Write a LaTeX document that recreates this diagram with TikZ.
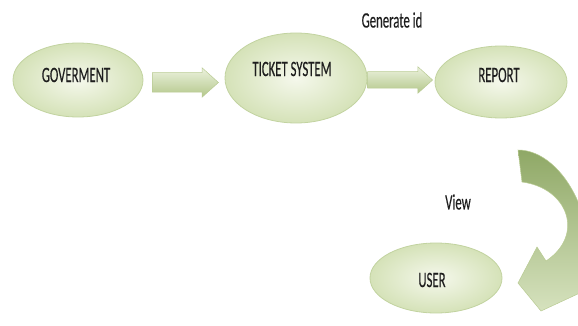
\documentclass[tikz,border=0pt]{standalone}
\usepackage{fontspec}
\setmainfont{Carlito}
\newfontfamily\narrowfont[FakeStretch=0.58,FakeBold=0.3]{Carlito}
\usetikzlibrary{shapes.geometric,shapes.arrows}
\definecolor{ellfillA}{HTML}{F5F8EC}
\definecolor{ellfillB}{HTML}{D5E2B8}
\definecolor{ellline}{HTML}{C2D3A0}
\definecolor{arrA}{HTML}{ECF2DE}
\definecolor{arrB}{HTML}{B3C78A}
\definecolor{arrline}{HTML}{B9CB93}
\definecolor{curvA}{HTML}{8FA866}
\definecolor{curvB}{HTML}{D6E2BE}
\definecolor{txt}{HTML}{1E1E1E}
\tikzset{
  ellbox/.style={ellipse, draw=ellline, line width=0.8pt, inner color=ellfillA, outer color=ellfillB, inner sep=0pt},
  lbl/.style={font=\narrowfont\fontsize{22}{26}\selectfont, text=txt, inner sep=0pt},
  blockarrow/.style={single arrow, draw=arrline, line width=0.5pt, top color=arrA, bottom color=arrB,
     single arrow tip angle=84, inner xsep=0pt, anchor=center}
}
\begin{document}
\begin{tikzpicture}[x=1pt,y=-1pt]
\useasboundingbox (0,0) rectangle (578,326);
\clip (0,0) rectangle (578,326);
% ellipses
\node[ellbox, minimum width=130pt, minimum height=74pt] (gov) at (78,80) {};
\node[ellbox, minimum width=142pt, minimum height=90pt] (ticket) at (296,78) {};
\node[ellbox, minimum width=132pt, minimum height=72pt] (report) at (501,82) {};
\node[ellbox, minimum width=132pt, minimum height=70pt] (user) at (436,278) {};
% labels
\node[lbl] (govt) at (76,75) {GOVERMENT};
\node[lbl] (tickett) at (292,69) {TICKET SYSTEM};
\node[lbl] (reportt) at (499,75) {REPORT};
\node[lbl] (usert) at (432,280) {USER};
\node[lbl] (gen) at (392,20) {Generate id};
\node[lbl] (view) at (458,202) {View};
% straight block arrows
\node[blockarrow, minimum height=66pt, inner ysep=9.5pt, single arrow head extend=5pt] (a1) at (180,82.5) {};
\node[blockarrow, minimum height=65pt, inner ysep=8pt, single arrow head extend=5pt] (a2) at (395.5,80) {};
% curved arrow from report to user
\coordinate (ctail) at (518,150);
\coordinate (ctip) at (518,283);
\path[top color=curvA, bottom color=curvB, draw=arrline, line width=0.5pt]
  (ctail) .. controls (565,150) and (605,230) .. (582,292)
  -- (541,311) -- (ctip) -- (537,247) -- (546,261)
  .. controls (585,235) and (568,188) .. (522,182) -- cycle;
\end{tikzpicture}
\end{document}
